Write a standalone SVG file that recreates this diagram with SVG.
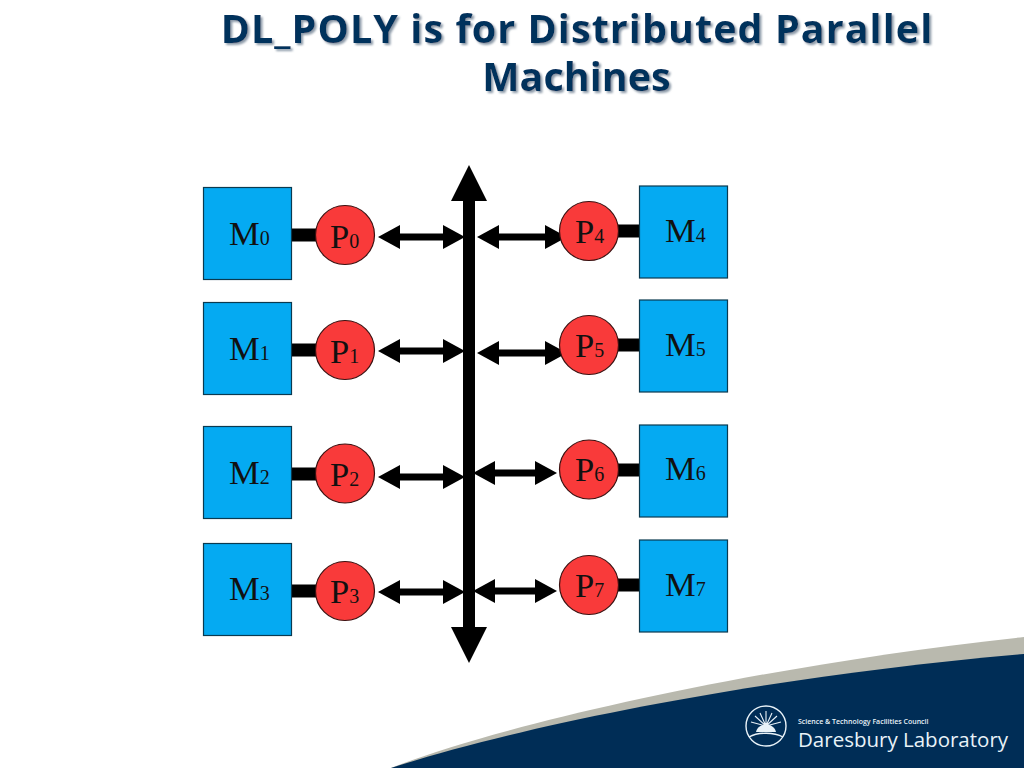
<svg xmlns="http://www.w3.org/2000/svg" width="1024" height="768" viewBox="0 0 1024 768">
<style>
.t{font-family:"Open Sans","Noto Sans",sans-serif;font-weight:700;font-size:39.5px;text-anchor:middle}
.m{fill:#05aaf2;stroke:#0a3a50;stroke-width:1.2}
.p{fill:#f93a3a;stroke:#3a1010;stroke-width:1.2}
.l{font-family:"Liberation Serif",serif;font-size:34.5px;fill:#111}
.s{font-size:20px}
.bar{stroke:#000;stroke-width:13}
.ar{stroke:#000;stroke-width:7;marker-start:url(#hs);marker-end:url(#he)}
.f{font-family:"Open Sans","Noto Sans",sans-serif;fill:#e8f2f8}
</style>
<defs>
<marker id="he" markerUnits="userSpaceOnUse" markerWidth="24" markerHeight="26" refX="12" refY="12" orient="auto"><path d="M0 0L22 12L0 24Z"/></marker>
<marker id="hs" markerUnits="userSpaceOnUse" markerWidth="24" markerHeight="26" refX="10" refY="12" orient="auto"><path d="M22 0L0 12L22 24Z"/></marker>
<filter id="ts" x="-5%" y="-10%" width="110%" height="130%"><feDropShadow dx="2" dy="2" stdDeviation="0.8" flood-color="#8c9aa8"/></filter>
</defs>
<rect width="1024" height="768" fill="#fff"/>
<g id="footer">
<path d="M391 768C500 725 760 665 1024 637V768Z" fill="#b9b9ae"/>
<path d="M391 768C520 726 760 677 1024 654V768Z" fill="#002d56"/>
<circle cx="766" cy="726" r="20" fill="none" stroke="#e8f2f8" stroke-width="1.4"/>
<path d="M749 737C758 732 774 732 783 737" fill="none" stroke="#e8f2f8" stroke-width="1.4"/>
<path d="M756 732C758 722 774 722 776 732Z" fill="#e8f2f8"/>
<path d="M766 726V711M766 726L760 713M766 726L772 713M766 726L755 716M766 726L777 716M766 726L751 722M766 726L781 722" stroke="#e8f2f8" stroke-width="1.1"/>
<text class="f" x="798" y="724" font-size="7" font-weight="600">Science &amp; Technology Facilities Council</text>
<text class="f" x="798" y="747" font-size="20.5">Daresbury Laboratory</text>
</g>
<g filter="url(#ts)" fill="#04305c">
<text class="t" x="577" y="43" letter-spacing="1.05">DL_POLY is for Distributed Parallel</text>
<text class="t" x="576.500" y="91">Machines</text>
</g>
<g id="connectors">
<path class="bar" d="M291 235H320M291 350H320M291 474H320M291 591H320M615 231H640M615 345H640M615 470H640M615 585H640"/>
<line class="ar" x1="388" y1="237" x2="455" y2="237"/>
<line class="ar" x1="388" y1="351" x2="455" y2="351"/>
<line class="ar" x1="388" y1="477" x2="455" y2="477"/>
<line class="ar" x1="388" y1="592" x2="455" y2="592"/>
<line class="ar" x1="487" y1="237" x2="557" y2="237"/>
<line class="ar" x1="487" y1="353" x2="557" y2="353"/>
<line class="ar" x1="483" y1="473" x2="547" y2="473"/>
<line class="ar" x1="483" y1="591" x2="547" y2="591"/>
<path id="bus" d="M469 165L487 201H475V627H487L469 663L451 627H463V201H451Z"/>
</g>
<g id="M0"><rect class="m" x="203.500" y="187.500" width="88" height="92"/><text class="l" x="229" y="245">M<tspan class="s">0</tspan></text></g>
<g id="M1"><rect class="m" x="203.500" y="302.500" width="88" height="92"/><text class="l" x="229" y="360">M<tspan class="s">1</tspan></text></g>
<g id="M2"><rect class="m" x="203.500" y="426.500" width="88" height="92"/><text class="l" x="229" y="484">M<tspan class="s">2</tspan></text></g>
<g id="M3"><rect class="m" x="203.500" y="543.500" width="88" height="92"/><text class="l" x="229" y="600">M<tspan class="s">3</tspan></text></g>
<g id="M4"><rect class="m" x="639.500" y="186" width="88" height="92"/><text class="l" x="665" y="242">M<tspan class="s">4</tspan></text></g>
<g id="M5"><rect class="m" x="639.500" y="300" width="88" height="92"/><text class="l" x="665" y="356">M<tspan class="s">5</tspan></text></g>
<g id="M6"><rect class="m" x="639.500" y="425" width="88" height="92"/><text class="l" x="665" y="480">M<tspan class="s">6</tspan></text></g>
<g id="M7"><rect class="m" x="639.500" y="540" width="88" height="92"/><text class="l" x="665" y="596">M<tspan class="s">7</tspan></text></g>
<g id="P0"><circle class="p" cx="345" cy="235" r="29.500"/><text class="l" x="330" y="248">P<tspan class="s">0</tspan></text></g>
<g id="P1"><circle class="p" cx="345" cy="350" r="29.500"/><text class="l" x="330" y="363">P<tspan class="s">1</tspan></text></g>
<g id="P2"><circle class="p" cx="345" cy="473.500" r="29.500"/><text class="l" x="330" y="486">P<tspan class="s">2</tspan></text></g>
<g id="P3"><circle class="p" cx="345" cy="591" r="29.500"/><text class="l" x="330" y="603">P<tspan class="s">3</tspan></text></g>
<g id="P4"><circle class="p" cx="589" cy="231" r="29.500"/><text class="l" x="575" y="243">P<tspan class="s">4</tspan></text></g>
<g id="P5"><circle class="p" cx="589" cy="345" r="29.500"/><text class="l" x="575" y="357">P<tspan class="s">5</tspan></text></g>
<g id="P6"><circle class="p" cx="589" cy="469.500" r="29.500"/><text class="l" x="575" y="481">P<tspan class="s">6</tspan></text></g>
<g id="P7"><circle class="p" cx="589" cy="585" r="29.500"/><text class="l" x="575" y="597">P<tspan class="s">7</tspan></text></g>
</svg>
